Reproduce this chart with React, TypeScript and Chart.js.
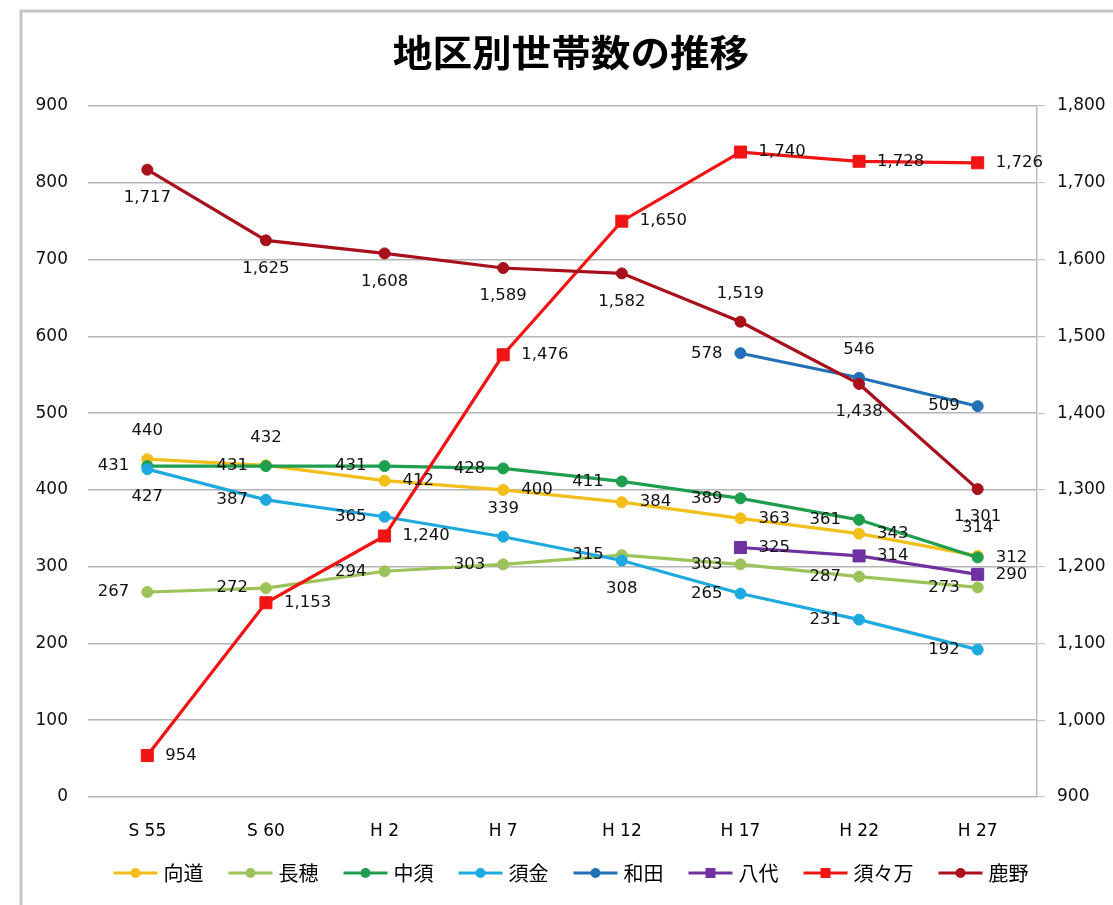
import React, { useEffect, useRef } from 'react';
import { Chart, registerables } from 'chart.js';

Chart.register(...registerables);

// ---- data ----
const TITLE = '地区別世帯数の推移';
const CATEGORIES = ['S 55', 'S 60', 'H 2', 'H 7', 'H 12', 'H 17', 'H 22', 'H 27'];
const SERIES_NAMES = ['向道', '長穂', '中須', '須金', '和田', '八代', '須々万', '鹿野'];
const MUKAIDO = [440, 432, 412, 400, 384, 363, 343, 314];
const NAGAHO = [267, 272, 294, 303, 315, 303, 287, 273];
const NAKASU = [431, 431, 431, 428, 411, 389, 361, 312];
const SUGANE = [427, 387, 365, 339, 308, 265, 231, 192];
const WADA = [null, null, null, null, null, 578, 546, 509];
const YASHIRO = [null, null, null, null, null, 325, 314, 290];
const SUSUMA = [954, 1153, 1240, 1476, 1650, 1740, 1728, 1726];
const KANO = [1717, 1625, 1608, 1589, 1582, 1519, 1438, 1301];
const LEFT_TICKS = { min: 0, max: 900, step: 100 };
const RIGHT_TICKS = { min: 900, max: 1800, step: 100 };

// ---- styles ----
const SERIES_VALUES = [MUKAIDO, NAGAHO, NAKASU, SUGANE, WADA, YASHIRO, SUSUMA, KANO];
const SERIES_COLORS = ['#F2BE1A', '#9CC35A', '#1E9E4E', '#1EAAE0', '#2270B8', '#7032A0', '#F01414', '#A8101C'];
const SERIES_AXIS = ['y', 'y', 'y', 'y', 'y', 'y', 'y2', 'y2'];
const SERIES_MARKER = ['circle', 'circle', 'circle', 'circle', 'circle', 'rect', 'rect', 'circle'];
const LABEL_POS = [
  ['A', 'A', 'R', 'R', 'R', 'R', 'R', 'A'],
  ['L', 'L', 'L', 'L', 'L', 'L', 'L', 'L'],
  ['L', 'L', 'L', 'L', 'L', 'L', 'L', 'R'],
  ['B', 'L', 'L', 'A', 'B', 'L', 'L', 'L'],
  ['', '', '', '', '', 'L', 'A', 'L'],
  ['', '', '', '', '', 'R', 'R', 'R'],
  ['R', 'R', 'R', 'R', 'R', 'R', 'R', 'R'],
  ['B', 'B', 'B', 'B', 'B', 'A', 'B', 'B'],
];

const W = 1113;
const H = 905;
const GRID = '#B4B4B4';
const LABEL_FONT = '16.5px "DejaVu Sans"';
const TICK_FONT = { family: 'DejaVu Sans', size: 17 };

const framePlugin = {
  id: 'frame',
  beforeDraw(chart: any) {
    const ctx = chart.ctx;
    ctx.save();
    ctx.fillStyle = '#FFFFFF';
    ctx.fillRect(0, 0, chart.width, chart.height);
    ctx.strokeStyle = '#C4C4C4';
    ctx.lineWidth = 3;
    ctx.beginPath();
    ctx.moveTo(21, H);
    ctx.lineTo(21, 11);
    ctx.lineTo(W, 11);
    ctx.stroke();
    ctx.restore();
  },
};

const pointLabelPlugin = {
  id: 'pointLabels',
  afterDatasetsDraw(chart: any) {
    const ctx = chart.ctx;
    ctx.save();
    ctx.font = LABEL_FONT;
    ctx.fillStyle = '#111111';
    chart.data.datasets.forEach((ds: any, di: number) => {
      const meta = chart.getDatasetMeta(di);
      const pos = LABEL_POS[di];
      meta.data.forEach((pt: any, i: number) => {
        const v = ds.data[i];
        if (v == null) return;
        const txt = Number(v).toLocaleString('en-US');
        let x = pt.x;
        let y = pt.y;
        const p = pos[i];
        ctx.textBaseline = 'middle';
        if (p === 'L') {
          ctx.textAlign = 'right';
          x -= 18;
        } else if (p === 'R') {
          ctx.textAlign = 'left';
          x += 18;
        } else if (p === 'A') {
          ctx.textAlign = 'center';
          y -= 28;
        } else {
          ctx.textAlign = 'center';
          y += 28;
        }
        ctx.fillText(txt, x, y);
      });
    });
    ctx.restore();
  },
};

const titleLegendPlugin = {
  id: 'titleLegend',
  afterDraw(chart: any) {
    const ctx = chart.ctx;
    ctx.save();
    // title
    ctx.fillStyle = '#000000';
    ctx.font = 'bold 37px "Noto Sans CJK JP"';
    ctx.textAlign = 'center';
    ctx.textBaseline = 'middle';
    ctx.translate(571, 53);
    ctx.scale(1.07, 1);
    ctx.fillText(TITLE, 0, 0);
    ctx.restore();

    // legend
    ctx.save();
    ctx.font = '20px "Noto Sans CJK JP"';
    const lineLen = 44;
    const gapText = 6;
    const gapItem = 25;
    const widths = SERIES_NAMES.map((n) => ctx.measureText(n).width);
    const total =
      SERIES_NAMES.length * (lineLen + gapText) +
      widths.reduce((a, b) => a + b, 0) +
      (SERIES_NAMES.length - 1) * gapItem;
    let x = 571 - total / 2;
    const y = 873;
    SERIES_NAMES.forEach((name, i) => {
      const c = SERIES_COLORS[i];
      ctx.strokeStyle = c;
      ctx.lineWidth = 3;
      ctx.beginPath();
      ctx.moveTo(x, y);
      ctx.lineTo(x + lineLen, y);
      ctx.stroke();
      ctx.fillStyle = c;
      const cx = x + lineLen / 2;
      if (SERIES_MARKER[i] === 'rect') {
        ctx.fillRect(cx - 5, y - 5, 10, 10);
      } else {
        ctx.beginPath();
        ctx.arc(cx, y, 5, 0, Math.PI * 2);
        ctx.fill();
      }
      ctx.fillStyle = '#000000';
      ctx.textAlign = 'left';
      ctx.textBaseline = 'middle';
      ctx.fillText(name, x + lineLen + gapText, y);
      x += lineLen + gapText + widths[i] + gapItem;
    });
    ctx.restore();
  },
};

export default function App() {
  const ref = useRef<HTMLCanvasElement | null>(null);

  useEffect(() => {
    if (!ref.current) return;
    const datasets = SERIES_NAMES.map((name, i) => ({
      label: name,
      data: SERIES_VALUES[i],
      yAxisID: SERIES_AXIS[i],
      borderColor: SERIES_COLORS[i],
      backgroundColor: SERIES_COLORS[i],
      pointBackgroundColor: SERIES_COLORS[i],
      pointBorderColor: SERIES_COLORS[i],
      borderWidth: 3.2,
      pointStyle: SERIES_MARKER[i],
      pointRadius: SERIES_MARKER[i] === 'rect' ? 8.5 : 5.5,
      pointBorderWidth: 1,
      tension: 0,
      spanGaps: false,
      order: SERIES_NAMES.length - 1 - i,
    }));

    const chart = new Chart(ref.current, {
      type: 'line',
      data: { labels: CATEGORIES, datasets },
      options: {
        responsive: false,
        animation: false,
        devicePixelRatio: 1,
        layout: { padding: { top: 106, left: 0, right: 0, bottom: 0 } },
        plugins: {
          legend: { display: false },
          title: { display: false },
          tooltip: { enabled: false },
        },
        scales: {
          x: {
            offset: true,
            grid: { display: false, offset: true },
            border: { display: false },
            ticks: { color: '#000', font: TICK_FONT, padding: 16, maxRotation: 0 },
            afterFit(scale: any) {
              scale.height = 108;
            },
          },
          y: {
            position: 'left',
            min: LEFT_TICKS.min,
            max: LEFT_TICKS.max,
            ticks: { stepSize: LEFT_TICKS.step, color: '#111', font: TICK_FONT, padding: 20 },
            grid: { color: GRID, lineWidth: 1.6, drawTicks: false },
            border: { display: false },
            afterFit(scale: any) {
              scale.width = 88;
            },
          },
          y2: {
            position: 'right',
            min: RIGHT_TICKS.min,
            max: RIGHT_TICKS.max,
            ticks: { stepSize: RIGHT_TICKS.step, color: '#111', font: TICK_FONT, padding: 12 },
            grid: { drawOnChartArea: false, drawTicks: true, tickLength: 8, color: '#C8C8C8', lineWidth: 1.2 },
            border: { display: true, color: '#BDBDBD', width: 1.5 },
            afterFit(scale: any) {
              scale.width = W - 1037;
            },
          },
        },
      } as any,
      plugins: [framePlugin, pointLabelPlugin, titleLegendPlugin],
    });
    return () => chart.destroy();
  }, []);

  return (
    <div style={{ position: 'fixed', left: 0, top: 0, width: W, height: H, background: '#fff' }}>
      <canvas ref={ref} width={W} height={H} style={{ display: 'block', width: W, height: H }} />
    </div>
  );
}
